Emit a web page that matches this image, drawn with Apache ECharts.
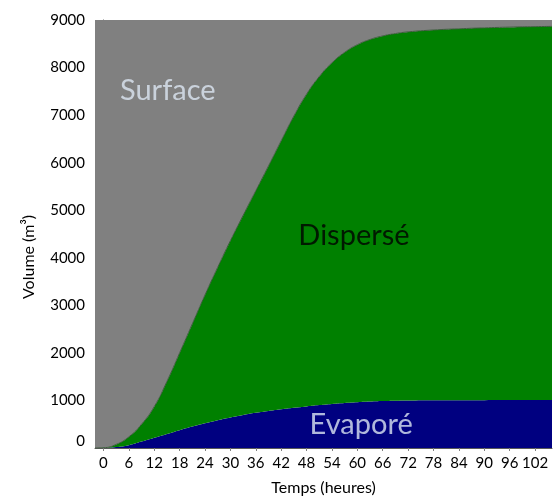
<!DOCTYPE html>
<html>
<head>
<meta charset="utf-8">
<script src="https://cdn.jsdelivr.net/npm/echarts@6/dist/echarts.min.js"></script>
<style>
  html, body { margin: 0; padding: 0; background: #fff; }
  #chart { width: 558px; height: 498px; }
</style>
</head>
<body>
<div id="chart"></div>
<script>
// Time since release (hours)
const hours = [-2, 0, 3, 6, 9, 12, 15, 18, 21, 24, 27, 30, 33, 36, 39, 42, 45, 48, 51, 54, 57, 60, 63, 66, 69, 72, 78, 84, 90, 96, 102, 106];
// Volumes in m3 for each compartment
const evaporated = [0, 0, 20, 60, 135, 215, 295, 375, 450, 520, 585, 643, 695, 740, 780, 815, 847, 875, 902, 926, 947, 963, 976, 986, 993, 998, 1003, 1005, 1006, 1007, 1008, 1008];
const dispersed  = [0, 5, 55, 175, 365, 655, 1105, 1625, 2160, 2700, 3215, 3717, 4195, 4670, 5150, 5645, 6133, 6565, 6908, 7174, 7373, 7517, 7614, 7679, 7722, 7752, 7787, 7810, 7829, 7843, 7852, 7858];
const surface    = [9000, 8995, 8925, 8765, 8500, 8130, 7600, 7000, 6390, 5780, 5200, 4640, 4110, 3590, 3070, 2540, 2020, 1560, 1190, 900, 680, 520, 410, 335, 285, 250, 210, 185, 165, 150, 140, 134];
// Tick labels of the time axis
const hourTicks = [0, 6, 12, 18, 24, 30, 36, 42, 48, 54, 60, 66, 72, 78, 84, 90, 96, 102];
// Region names and where they sit (hours, m3)
const regionNames = ['Surface', 'Dispersé', 'Evaporé'];
const regionLabelAt = [[15.2, 7520], [59.2, 4460], [60.9, 500]];
const regionLabelColors = ['#dce6f2', '#000000', '#dce6f2'];

const FONT = 'Lato, "Open Sans", sans-serif';
// volume first so the stack accumulates along the vertical axis
const rows = arr => hours.map((h, i) => [arr[i], h]);

const chart = echarts.init(document.getElementById('chart'), null, { renderer: 'canvas' });

function areaSeries(name, values, color, line) {
  return {
    name: name,
    type: 'line',
    stack: 'volume',
    smooth: 0.5,
    symbol: 'none',
    data: rows(values),
    encode: { x: 1, y: 0 },
    lineStyle: line || { width: 0 },
    areaStyle: { color: color, opacity: 1 },
    itemStyle: { color: color },
    emphasis: { disabled: true }
  };
}

chart.setOption({
  animation: false,
  backgroundColor: '#ffffff',
  grid: { left: 95, right: 6, top: 20, bottom: 50, containLabel: false, outerBoundsMode: 'none' },
  xAxis: {
    type: 'value',
    min: -2,
    max: 106,
    name: 'Temps (heures)',
    nameLocation: 'middle',
    nameGap: 32,
    nameTextStyle: { fontFamily: FONT, fontSize: 16, color: '#000' },
    axisLine: { show: true, lineStyle: { color: '#595959', width: 1 } },
    axisTick: { show: true, length: 3, customValues: hourTicks, lineStyle: { color: '#808080' } },
    axisLabel: {
      customValues: hourTicks,
      fontFamily: FONT, fontSize: 15, color: '#000', margin: 8
    },
    splitLine: { show: false }
  },
  yAxis: {
    type: 'value',
    min: 0,
    max: 9000,
    interval: 1000,
    name: 'Volume (m³)',
    nameLocation: 'middle',
    nameGap: 58,
    nameTextStyle: { fontFamily: FONT, fontSize: 16, color: '#000', padding: [0, 46, 0, 0] },
    axisLine: { show: true, lineStyle: { color: '#595959', width: 1 } },
    axisTick: { show: true, length: 5, lineStyle: { color: '#595959' } },
    minorTick: { show: true, splitNumber: 5, length: 3, lineStyle: { color: '#a6a6a6' } },
    axisLabel: {
      fontFamily: FONT, fontSize: 15, color: '#000', margin: 10,
      formatter: v => v === 0 ? '{z|0}' : String(v),
      rich: { z: { fontFamily: FONT, fontSize: 15, color: '#000', padding: [0, 0, 14, 0] } }
    },
    splitLine: { show: false }
  },
  series: [
    areaSeries(regionNames[2], evaporated, '#000080'),
    areaSeries(regionNames[1], dispersed, '#008000', { width: 1, color: '#3d5c3d' }),
    areaSeries(regionNames[0], surface, '#808080'),
    {
      name: 'regions',
      type: 'scatter',
      symbolSize: 0,
      silent: true,
      z: 10,
      data: regionNames.map((n, i) => ({
        name: n,
        value: regionLabelAt[i],
        label: { color: regionLabelColors[i] }
      })),
      label: {
        show: true,
        position: 'inside',
        formatter: p => p.name,
        fontFamily: FONT,
        fontSize: 29
      }
    }
  ]
});
</script>
</body>
</html>
